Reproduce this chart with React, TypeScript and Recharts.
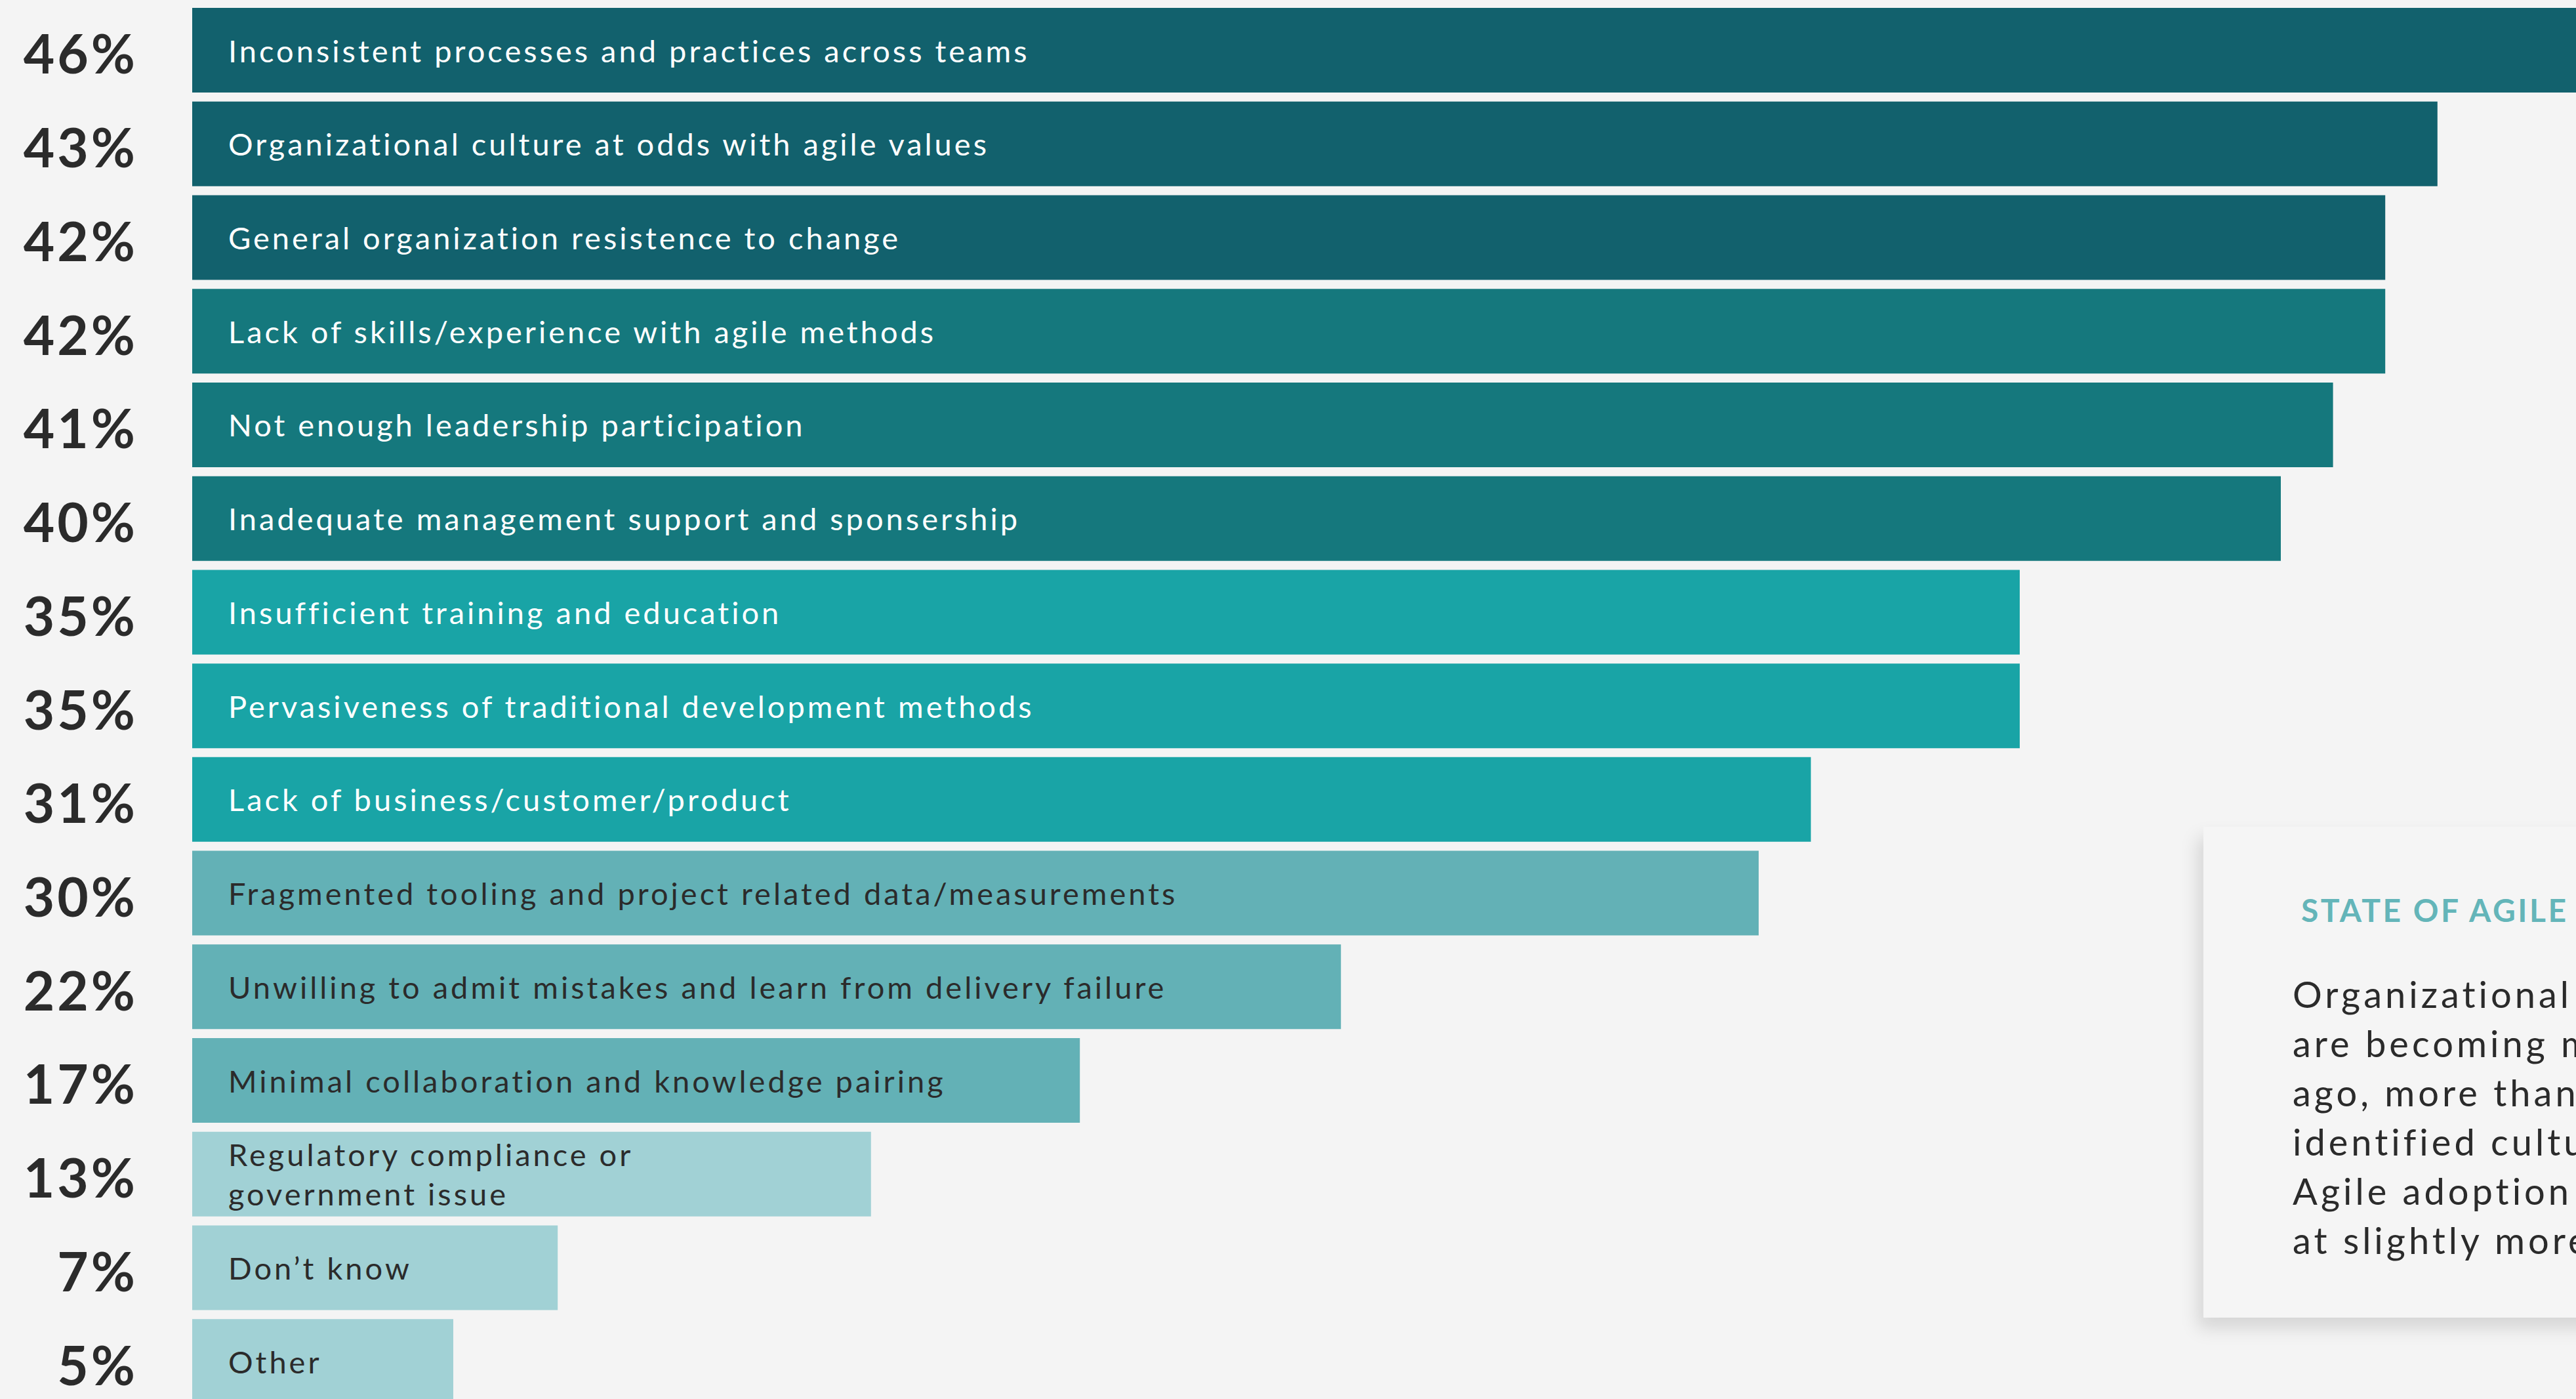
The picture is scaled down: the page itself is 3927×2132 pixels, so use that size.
import { BarChart, Bar, XAxis, YAxis, LabelList, Cell } from "recharts";

const categories = [
  "Inconsistent processes and practices across teams",
  "Organizational culture at odds with agile values",
  "General organization resistence to change",
  "Lack of skills/experience with agile methods",
  "Not enough leadership participation",
  "Inadequate management support and sponsership",
  "Insufficient training and education",
  "Pervasiveness of traditional development methods",
  "Lack of business/customer/product",
  "Fragmented tooling and project related data/measurements",
  "Unwilling to admit mistakes and learn from delivery failure",
  "Minimal collaboration and knowledge pairing",
  "Regulatory compliance or\ngovernment issue",
  "Don’t know",
  "Other",
];

const values = [46, 43, 42, 42, 41, 40, 35, 35, 31, 30, 22, 17, 13, 7, 5];

const barColors = [
  "#12616d", "#12616d", "#12616d",
  "#15787d", "#15787d", "#15787d",
  "#19a4a6", "#19a4a6", "#19a4a6",
  "#63b1b6", "#63b1b6", "#63b1b6",
  "#a1d1d5", "#a1d1d5", "#a1d1d5",
];

const labelColors = [
  "#ffffff", "#ffffff", "#ffffff", "#ffffff", "#ffffff", "#ffffff",
  "#ffffff", "#ffffff", "#ffffff",
  "#2b2b2b", "#2b2b2b", "#2b2b2b", "#2b2b2b", "#2b2b2b", "#2b2b2b",
];

const cardTitle = "STATE OF AGILE";
const cardLines = [
  "Organizational cultures",
  "are becoming more",
  "ago, more than half",
  "identified culture",
  "Agile adoption",
  "at slightly more",
];

const data = categories.map((name, i) => ({ name, value: values[i] }));

const FONT = "Lato, 'Open Sans', sans-serif";

function PercentTick(props: any) {
  const { x, y, payload } = props;
  const idx = categories.indexOf(payload.value);
  return (
    <text
      x={x - 75}
      y={y + 4}
      textAnchor="end"
      dominantBaseline="central"
      fontFamily={FONT}
      fontWeight={700}
      fontSize={82}
      letterSpacing={4}
      fill="#2b2b2b"
    >
      {values[idx]}%
    </text>
  );
}

function BarLabel(props: any) {
  const { x, y, height, value, index } = props;
  const lines = String(value).split("\n");
  const lineH = 60;
  const cy = y + height / 2 - ((lines.length - 1) * lineH) / 2;
  return (
    <text
      x={x + 55}
      y={cy}
      dominantBaseline="central"
      fontFamily={FONT}
      fontSize={47}
      letterSpacing={4}
      fill={labelColors[index]}
    >
      {lines.map((l, i) => (
        <tspan key={i} x={x + 55} y={cy + i * lineH} dominantBaseline="central">
          {l}
        </tspan>
      ))}
    </text>
  );
}

export default function App() {
  return (
    <div
      style={{
        position: "fixed",
        left: 0,
        top: 0,
        width: 3927,
        height: 2132,
        overflow: "hidden",
        background: "#f4f4f4",
      }}
    >
      <BarChart
        width={4273}
        height={2146}
        data={data}
        layout="vertical"
        margin={{ top: 5, right: 0, bottom: 0, left: 0 }}
      >
        <XAxis type="number" domain={[0, 50]} hide />
        <YAxis
          type="category"
          dataKey="name"
          width={293}
          axisLine={false}
          tickLine={false}
          tick={<PercentTick />}
          interval={0}
        />
        <Bar dataKey="value" barSize={129} isAnimationActive={false}>
          {data.map((d, i) => (
            <Cell key={d.name} fill={barColors[i]} />
          ))}
          <LabelList dataKey="name" content={<BarLabel />} />
        </Bar>
      </BarChart>

      <div
        style={{
          position: "absolute",
          left: 3359,
          top: 1260,
          width: 800,
          height: 748,
          background: "#f5f5f5",
          boxShadow: "-8px 16px 26px rgba(0,0,0,0.13)",
          fontFamily: FONT,
        }}
      >
        <div
          style={{
            position: "absolute",
            left: 149,
            top: 103,
            fontSize: 48,
            lineHeight: "48px",
            fontWeight: 700,
            letterSpacing: 3.5,
            color: "#64b5b9",
            whiteSpace: "nowrap",
          }}
        >
          {cardTitle}
        </div>
        <div
          style={{
            position: "absolute",
            left: 136,
            top: 217,
            fontSize: 56,
            lineHeight: "75px",
            letterSpacing: 5,
            color: "#2b2b2b",
            whiteSpace: "nowrap",
          }}
        >
          {cardLines.map((l) => (
            <div key={l}>{l}</div>
          ))}
        </div>
      </div>
    </div>
  );
}
